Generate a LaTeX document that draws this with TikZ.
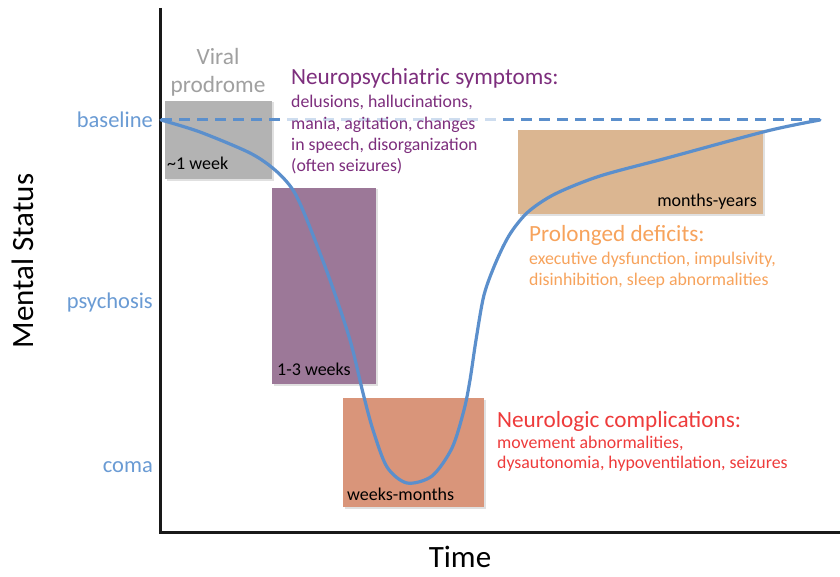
\documentclass[tikz,border=0pt]{standalone}
\usepackage{fontspec}
\setmainfont{Carlito}
\definecolor{cblue}{HTML}{5B8FCC}
\definecolor{clabel}{HTML}{6A9BD4}
\definecolor{cgraybox}{HTML}{B3B3B3}
\definecolor{cgraytext}{HTML}{A0A0A0}
\definecolor{cpurbox}{HTML}{9C7898}
\definecolor{cpurtext}{HTML}{7D2E7D}
\definecolor{csalbox}{HTML}{D9957A}
\definecolor{credtext}{HTML}{EE3B3B}
\definecolor{ctanbox}{HTML}{DBB691}
\definecolor{corgtext}{HTML}{F7A35C}
\begin{document}
\begin{tikzpicture}[x=1pt,y=-1pt,
  head/.style={font=\fontsize{23.2}{27}\selectfont, anchor=base west, inner sep=0pt},
  det/.style={font=\fontsize{17.8}{21}\selectfont, anchor=base west, inner sep=0pt},
  lbl/.style={font=\fontsize{22.5}{26}\selectfont, text=clabel, anchor=base east, inner sep=0pt},
  dur/.style={font=\fontsize{18}{21}\selectfont, text=black, inner sep=0pt},
  axtitle/.style={font=\fontsize{31}{36}\selectfont, text=black, inner sep=0pt, anchor=base},
  boxshadow/.style={fill=black, opacity=0.12},
]
\useasboundingbox (0,0) rectangle (840,577);
\fill[white] (0,0) rectangle (840,577);
% shadows
\fill[boxshadow] (166.5,102.5) rectangle (273.5,181);
\fill[boxshadow] (273.5,189.5) rectangle (377.5,386);
\fill[boxshadow] (344.5,399.5) rectangle (485.5,509);
\fill[boxshadow] (519.5,131.5) rectangle (764.5,216);
% boxes
\fill[cgraybox] (165,101) rectangle (272,179);
\fill[cpurbox] (272,188) rectangle (376,384);
\fill[csalbox] (343,398) rectangle (484,507);
\fill[ctanbox] (518,130) rectangle (763,214);
% axes
\coordinate (ytop) at (160,8);
\coordinate (orig) at (160,532);
\coordinate (xend) at (840,532);
\draw[line width=3pt, black!90] (ytop) -- (orig) -- (xend);
% baseline dashed
\coordinate (bl0) at (161,120);
\coordinate (bl1) at (822,120);
\draw[cblue, line width=3pt, dash pattern=on 11pt off 7pt] (bl0) -- (bl1);
% white veil behind neuropsychiatric text
\fill[white, opacity=0.7] (285,96) rectangle (500,176);
% curve
\draw[cblue, line width=3.2pt, line cap=round] plot[smooth, tension=0.5] coordinates {
 (161,120) (200,132) (250,153) (275,170) (293,190) (307,220) (330,280) (350,340) (363,393)
 (373,430) (387,467) (407,483) (432,476) (452,448) (464,410) (470,380) (476,340) (484,295)
 (496,262) (510,234) (528,212) (555,194) (600,176) (667,158) (767,131) (820,120)};
% duration labels
\node[dur, anchor=base west] (d1) at (167,170) {\textasciitilde 1 week};
\node[dur, anchor=base west] (d2) at (277,375) {1-3 weeks};
\node[dur, anchor=base west] (d3) at (347,500) {weeks-months};
\node[dur, anchor=base east] (d4) at (757,207) {months-years};
% viral prodrome
\node[font=\fontsize{23.3}{27}\selectfont, text=cgraytext, anchor=base, inner sep=0pt] (v1) at (218,65) {Viral};
\node[font=\fontsize{23.3}{27}\selectfont, text=cgraytext, anchor=base, inner sep=0pt] (v2) at (218,93) {prodrome};
% neuropsychiatric
\node[head, text=cpurtext] (n0) at (291,85) {Neuropsychiatric symptoms:};
\node[det, text=cpurtext] (n1) at (291,108) {delusions, hallucinations,};
\node[det, text=cpurtext] (n2) at (291,130) {mania, agitation, changes};
\node[det, text=cpurtext] (n3) at (291,151) {in speech, disorganization};
\node[det, text=cpurtext] (n4) at (291,172) {(often seizures)};
% prolonged
\node[head, text=corgtext] (p0) at (529,242) {Prolonged deficits:};
\node[det, text=corgtext] (p1) at (529,265) {executive dysfunction, impulsivity,};
\node[det, text=corgtext] (p2) at (529,285) {disinhibition, sleep abnormalities};
% neurologic
\node[head, text=credtext] (r0) at (497,427) {Neurologic complications:};
\node[det, text=credtext] (r1) at (497,448) {movement abnormalities,};
\node[det, text=credtext] (r2) at (497,468) {dysautonomia, hypoventilation, seizures};
% y labels
\node[lbl] (lb) at (153,128) {baseline};
\node[lbl] (lp) at (153,308) {psychosis};
\node[lbl] (lc) at (153,472) {coma};
% axis titles
\node[axtitle, rotate=90] (ms) at (33,261) {Mental Status};
\node[axtitle] (tm) at (460,567) {Time};
\end{tikzpicture}
\end{document}
